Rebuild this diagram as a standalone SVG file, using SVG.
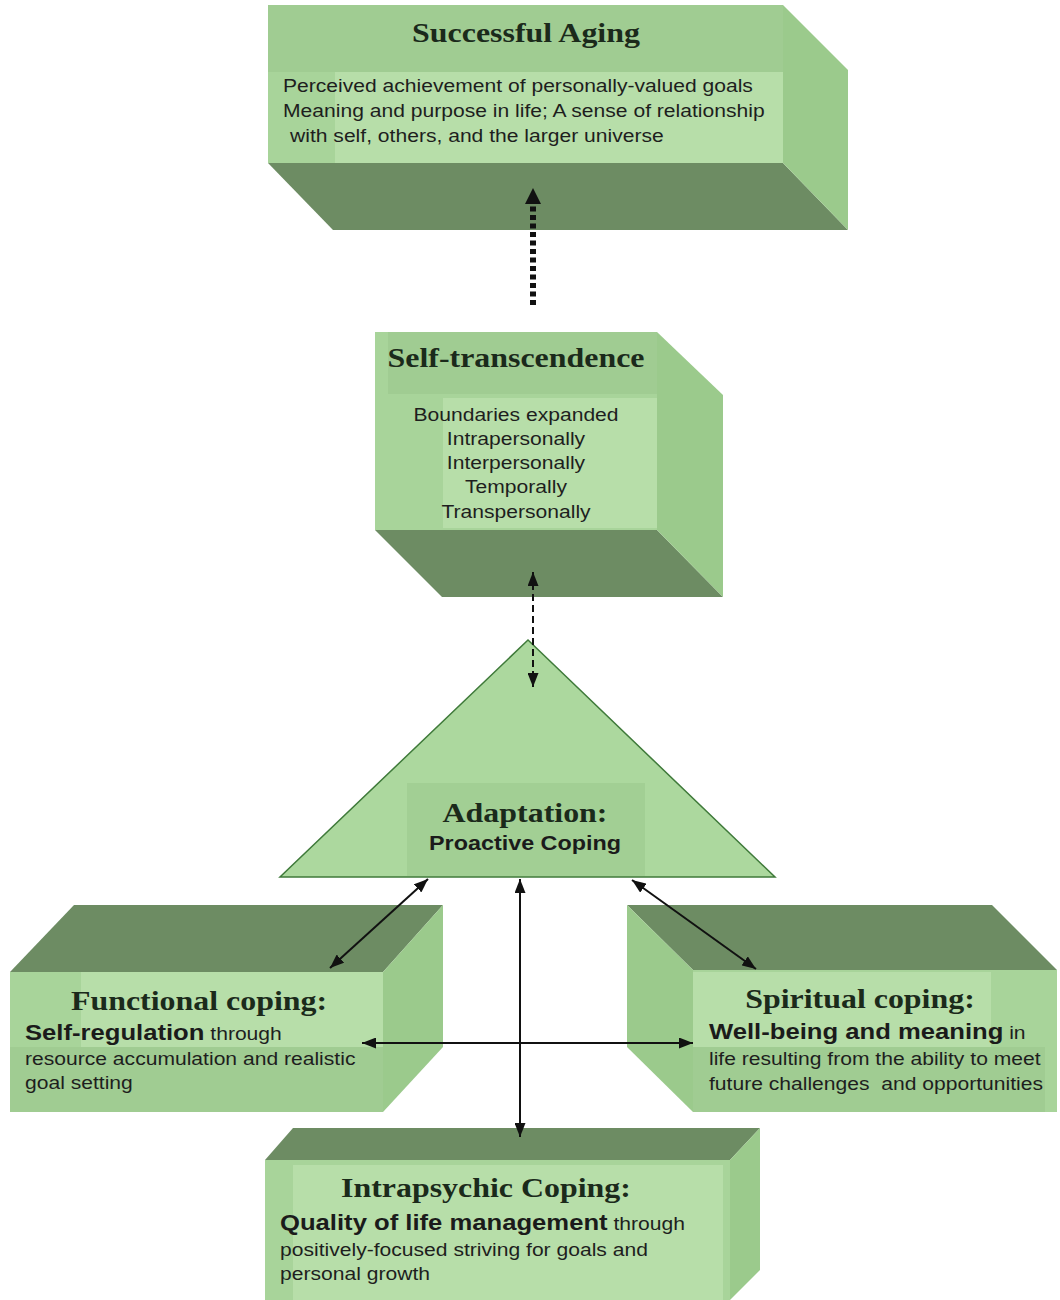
<svg xmlns="http://www.w3.org/2000/svg" width="1060" height="1300" viewBox="0 0 1060 1300">
<defs>
<marker id="ah" viewBox="0 0 14 11" refX="14" refY="5.5" markerWidth="14" markerHeight="11" markerUnits="userSpaceOnUse" orient="auto-start-reverse"><path d="M0,0 L14,5.5 L0,11 z" fill="#111"/></marker>
<marker id="ahBig" viewBox="0 0 16 16" refX="0" refY="8" markerWidth="16" markerHeight="16" markerUnits="userSpaceOnUse" orient="auto"><path d="M0,0 L16,8 L0,16 z" fill="#111"/></marker>
</defs>
<style>
.front{fill:#a8d49a}
.side{fill:#9bca8c}
.dark{fill:#6d8c63}
.band{fill:#a0cc92}
.light{fill:#b7dea9}
.tri{fill:#acd89e;stroke:#3f7a3a;stroke-width:1.5}
.title{font-family:"Liberation Serif","Times New Roman",serif;font-weight:bold;font-size:28px;fill:#1b2a1b}
.body{font-family:"Liberation Sans",Arial,sans-serif;font-size:18.5px;fill:#1e1e1e}
.bold{font-family:"Liberation Sans",Arial,sans-serif;font-weight:bold;font-size:22.5px;fill:#1b1b1b}
.mid{text-anchor:middle}
.conn{stroke:#111;stroke-width:2;fill:none}
</style>
<rect width="1060" height="1300" fill="#ffffff"/>

<g id="successful-aging">
<polygon class="dark" points="268,163 783,163 848,230 333,230"/>
<polygon class="side" points="783,5 848,70 848,230 783,163"/>
<rect class="front" x="268" y="5" width="515" height="158"/>
<rect class="band" x="268" y="5" width="515" height="67"/>
<rect class="light" x="335" y="72" width="448" height="91"/>
<text class="title mid" transform="translate(526,42) scale(1.14,1)">Successful Aging</text>
<text class="body" transform="translate(283,92) scale(1.14,1)">Perceived achievement of personally-valued goals</text>
<text class="body" transform="translate(283,117) scale(1.14,1)">Meaning and purpose in life; A sense of relationship</text>
<text class="body" transform="translate(290,142) scale(1.14,1)">with self, others, and the larger universe</text>
</g>

<g id="self-transcendence">
<polygon class="dark" points="375,530 657,530 723,597 442,597"/>
<polygon class="side" points="657,332 723,395 723,597 657,530"/>
<rect class="front" x="375" y="332" width="282" height="198"/>
<rect class="band" x="388" y="332" width="269" height="62"/>
<rect class="light" x="443" y="398" width="214" height="130"/>
<text class="title mid" transform="translate(516,367) scale(1.14,1)">Self-transcendence</text>
<text class="body mid" transform="translate(516,421) scale(1.14,1)">Boundaries expanded</text>
<text class="body mid" transform="translate(516,445) scale(1.14,1)">Intrapersonally</text>
<text class="body mid" transform="translate(516,469) scale(1.14,1)">Interpersonally</text>
<text class="body mid" transform="translate(516,493) scale(1.14,1)">Temporally</text>
<text class="body mid" transform="translate(516,518) scale(1.14,1)">Transpersonally</text>
</g>

<g id="adaptation">
<polygon class="tri" points="528,640 280,877 775,877"/>
<rect x="407" y="783" width="238" height="93" fill="#a2cf94"/>
<text class="title mid" transform="translate(525,822) scale(1.14,1)">Adaptation:</text>
<text class="mid" transform="translate(525,850) scale(1.14,1)" style="font-family:'Liberation Sans',Arial,sans-serif;font-weight:bold;font-size:20.5px;fill:#1b1b1b">Proactive Coping</text>
</g>

<g id="functional-coping">
<polygon class="dark" points="10,972 383,972 443,905 74,905"/>
<polygon class="side" points="383,972 443,905 443,1047 383,1112"/>
<rect class="front" x="10" y="972" width="373" height="140"/>
<rect class="light" x="81" y="972" width="302" height="75"/>
<rect class="band" x="10" y="1047" width="373" height="65"/>
<text class="title mid" transform="translate(199,1010) scale(1.14,1)">Functional coping:</text>
<text class="body" transform="translate(25,1040) scale(1.14,1)"><tspan class="bold">Self-regulation</tspan> through</text>
<text class="body" transform="translate(25,1065) scale(1.14,1)">resource accumulation and realistic</text>
<text class="body" transform="translate(25,1089) scale(1.14,1)">goal setting</text>
</g>

<g id="spiritual-coping">
<polygon class="dark" points="627,905 992,905 1057,970 693,970"/>
<polygon class="side" points="627,905 693,970 693,1112 627,1047"/>
<rect class="front" x="693" y="970" width="364" height="142"/>
<rect class="light" x="693" y="972" width="298" height="75"/>
<rect class="band" x="693" y="1047" width="352" height="65"/>
<text class="title mid" transform="translate(860,1008) scale(1.14,1)">Spiritual coping:</text>
<text class="body" transform="translate(709,1039) scale(1.14,1)"><tspan class="bold">Well-being and meaning</tspan> in</text>
<text class="body" transform="translate(709,1065) scale(1.14,1)">life resulting from the ability to meet</text>
<text class="body" transform="translate(709,1090) scale(1.14,1)" xml:space="preserve">future challenges  and opportunities</text>
</g>

<g id="intrapsychic-coping">
<polygon class="dark" points="265,1160 730,1160 760,1128 293,1128"/>
<polygon class="side" points="730,1160 760,1128 760,1270 730,1300"/>
<rect class="front" x="265" y="1160" width="465" height="140"/>
<rect class="light" x="293" y="1165" width="430" height="135"/>
<text class="title mid" transform="translate(486,1197) scale(1.14,1)">Intrapsychic Coping:</text>
<text class="body" transform="translate(280,1230) scale(1.14,1)"><tspan class="bold">Quality of life management</tspan> through</text>
<text class="body" transform="translate(280,1256) scale(1.14,1)">positively-focused striving for goals and</text>
<text class="body" transform="translate(280,1280) scale(1.14,1)">personal growth</text>
</g>

<g id="connectors">
<line x1="533" y1="305" x2="533" y2="204" stroke="#111" stroke-width="6" stroke-dasharray="5 3.5" marker-end="url(#ahBig)"/>
<line class="conn" x1="533" y1="572" x2="533" y2="687" stroke-dasharray="7 4" marker-start="url(#ah)" marker-end="url(#ah)"/>
<line class="conn" x1="428" y1="879" x2="330" y2="968" marker-start="url(#ah)" marker-end="url(#ah)"/>
<line class="conn" x1="632" y1="880" x2="756" y2="969" marker-start="url(#ah)" marker-end="url(#ah)"/>
<line class="conn" x1="520" y1="879" x2="520" y2="1137" marker-start="url(#ah)" marker-end="url(#ah)"/>
<line class="conn" x1="362" y1="1043" x2="693" y2="1043" marker-start="url(#ah)" marker-end="url(#ah)"/>
</g>
</svg>
